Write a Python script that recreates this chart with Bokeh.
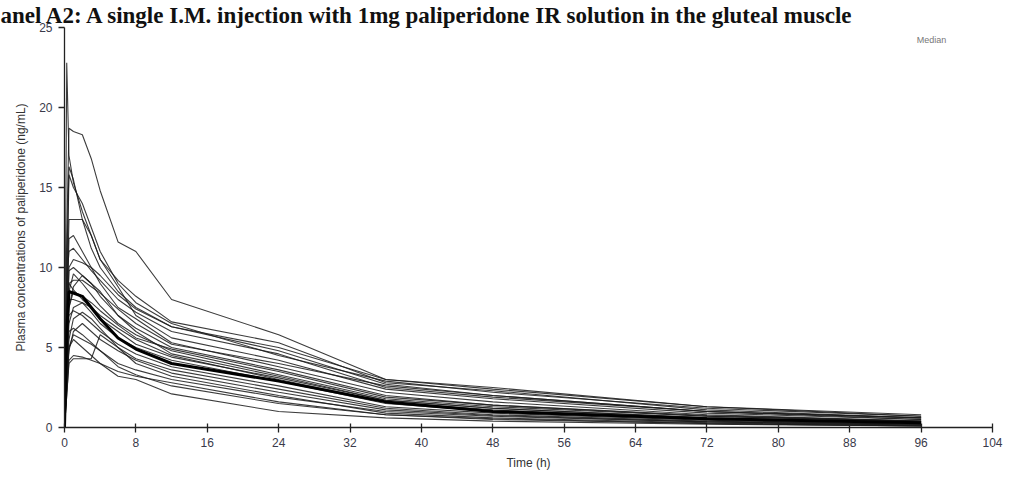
from bokeh.plotting import figure
from bokeh.models import FixedTicker, Label, Range1d
from bokeh.embed import file_html
from bokeh.resources import INLINE

# Sampling times (h)
times = [0, 0.25, 0.5, 1, 2, 3, 4, 6, 8, 12, 24, 36, 48, 72, 96]

# Individual subject concentration-time profiles (ng/mL)
s01 = [0, 12.0, 18.7, 18.5, 18.3, 16.8, 14.8, 11.6, 11.0, 8.0, 5.8, 3.0, 2.5, 1.3, 0.8]
s02 = [0, 22.8, 17.0, 15.3, 13.5, 12.0, 10.5, 9.2, 8.2, 6.6, 5.3, 2.8, 2.3, 1.1, 0.6]
s03 = [0, 10.0, 16.3, 15.5, 13.0, 11.2, 10.0, 8.5, 7.5, 6.3, 4.8, 2.7, 2.0, 1.0, 0.5]
s04 = [0, 8.0, 15.8, 15.0, 14.0, 12.5, 11.0, 9.0, 7.8, 6.5, 4.5, 2.9, 2.2, 1.2, 0.7]
s05 = [0, 7.0, 13.0, 13.0, 13.0, 12.0, 10.5, 8.8, 7.0, 5.6, 4.2, 2.4, 1.8, 0.9, 0.5]
s06 = [0, 6.5, 11.8, 12.0, 11.0, 10.0, 9.0, 7.5, 6.8, 5.3, 3.8, 2.2, 1.6, 0.8, 0.4]
s07 = [0, 9.0, 11.0, 11.2, 10.5, 9.8, 9.2, 8.0, 7.2, 6.0, 4.6, 2.5, 1.9, 1.0, 0.6]
s08 = [0, 5.0, 9.8, 10.0, 9.5, 9.0, 8.2, 7.0, 6.2, 5.0, 3.6, 2.0, 1.4, 0.7, 0.4]
s09 = [0, 6.0, 8.5, 9.6, 9.0, 8.3, 7.6, 6.5, 5.8, 4.8, 3.3, 1.8, 1.3, 0.7, 0.35]
s10 = [0, 4.5, 7.5, 8.8, 9.5, 9.0, 8.5, 7.0, 6.0, 4.6, 3.2, 1.7, 1.2, 0.6, 0.3]
s11 = [0, 5.5, 8.0, 8.0, 7.8, 7.5, 7.0, 6.2, 5.5, 4.5, 3.0, 1.6, 1.1, 0.55, 0.3]
s12 = [0, 3.5, 6.5, 7.5, 7.8, 7.2, 6.5, 5.6, 5.0, 4.2, 2.9, 1.5, 1.0, 0.5, 0.25]
s13 = [0, 4.0, 7.0, 7.3, 7.0, 6.5, 6.0, 5.2, 4.6, 3.8, 2.6, 1.3, 0.9, 0.45, 0.2]
s14 = [0, 3.0, 5.5, 6.8, 7.2, 6.8, 6.2, 5.0, 4.3, 3.6, 2.4, 1.2, 0.8, 0.4, 0.2]
s15 = [0, 2.5, 4.8, 6.0, 6.5, 6.0, 5.5, 4.8, 4.2, 3.4, 2.2, 1.1, 0.75, 0.35, 0.2]
s16 = [0, 3.0, 5.0, 5.8, 5.5, 5.2, 4.8, 4.0, 3.6, 3.0, 1.9, 1.0, 0.7, 0.35, 0.15]
s17 = [0, 2.0, 4.0, 4.3, 4.3, 4.3, 5.8, 5.0, 4.0, 3.2, 2.0, 0.9, 0.6, 0.3, 0.15]
s18 = [0, 2.5, 5.0, 5.5, 5.0, 4.5, 4.0, 3.2, 3.0, 2.1, 1.0, 0.6, 0.4, 0.2, 0.1]
s19 = [0, 3.0, 6.0, 6.2, 5.8, 5.3, 4.8, 3.8, 3.3, 2.6, 1.5, 0.8, 0.5, 0.25, 0.1]
s20 = [0, 6.0, 10.0, 10.5, 10.3, 10.0, 9.5, 8.3, 7.4, 6.3, 5.0, 3.0, 2.4, 1.3, 0.7]
s21 = [0, 7.5, 9.0, 9.2, 9.2, 8.8, 8.4, 7.4, 6.5, 5.2, 4.0, 2.6, 2.0, 1.0, 0.6]
s22 = [0, 4.0, 7.5, 8.5, 8.2, 7.8, 7.3, 6.4, 5.6, 4.9, 3.5, 1.9, 1.4, 0.75, 0.4]
s23 = [0, 5.0, 9.0, 8.6, 8.0, 7.5, 6.8, 6.0, 5.2, 4.4, 3.1, 1.7, 1.2, 0.6, 0.3]
s24 = [0, 2.0, 4.2, 4.5, 4.4, 4.2, 4.0, 3.5, 3.2, 2.8, 1.6, 0.8, 0.55, 0.25, 0.1]
subjects = [s01, s02, s03, s04, s05, s06, s07, s08, s09, s10, s11, s12,
            s13, s14, s15, s16, s17, s18, s19, s20, s21, s22, s23, s24]

# Median profile (ng/mL)
median = [0, 6.0, 8.5, 8.4, 8.2, 7.5, 6.8, 5.6, 4.9, 4.0, 2.9, 1.6, 1.0, 0.55, 0.3]

x_ticks = [0, 8, 16, 24, 32, 40, 48, 56, 64, 72, 80, 88, 96, 104]
y_ticks = [0, 5, 10, 15, 20, 25]

title_text = "anel A2: A single I.M. injection with 1mg paliperidone IR solution in the gluteal muscle"
legend_text = "Median"

W, H = 1009, 481
p = figure(width=W, height=H, output_backend="svg", toolbar_location=None,
           x_range=Range1d(0, 104), y_range=Range1d(0, 25),
           min_border_left=64, min_border_right=17, min_border_top=0,
           min_border_bottom=54)
p.outline_line_color = None
p.xgrid.visible = False
p.ygrid.visible = False
p.background_fill_color = "white"
p.border_fill_color = "white"

# Title above the frame, shifted to the image's left edge
p.title.text = title_text
p.title.align = "left"
p.title.offset = -64
p.title.standoff = 0
p.title.text_font = "Liberation Serif"
p.title.text_font_style = "bold"
p.title.text_font_size = "23px"
p.title.text_line_height = 0.85
p.title.text_color = "#111111"

for s in subjects:
    p.line(times, s, line_color="#1a1a1a", line_width=1.1, line_alpha=0.85)
p.line(times, median, line_color="black", line_width=3)

font = "Liberation Sans"
for ax in (p.xaxis[0], p.yaxis[0]):
    ax.axis_line_color = "#222222"
    ax.axis_line_width = 1.3
    ax.major_tick_line_color = "#222222"
    ax.major_tick_line_width = 1.3
    ax.minor_tick_line_color = None
    ax.major_label_text_font = font
    ax.major_label_text_font_size = "12px"
    ax.major_label_text_color = "#3a3a4a"
    ax.axis_label_text_font = font
    ax.axis_label_text_font_size = "12px"
    ax.axis_label_text_font_style = "normal"
    ax.axis_label_text_color = "#333333"

p.xaxis[0].ticker = FixedTicker(ticks=x_ticks)
p.xaxis[0].major_tick_in = 4
p.xaxis[0].major_tick_out = 5
p.xaxis[0].major_label_standoff = 5
p.xaxis[0].axis_label = "Time (h)"
p.xaxis[0].axis_label_standoff = 6

p.yaxis[0].ticker = FixedTicker(ticks=y_ticks)
p.yaxis[0].major_tick_in = 0
p.yaxis[0].major_tick_out = 6
p.yaxis[0].major_label_standoff = 6
p.yaxis[0].axis_label = "Plasma concentrations of paliperidone (ng/mL)"
p.yaxis[0].axis_label_standoff = 8

# Small legend caption at top right, inside the plot area
leg = Label(x=95.5, y=24.2, text=legend_text,
            text_font=font, text_font_size="9px", text_color="#777777",
            text_baseline="alphabetic", text_align="left")
p.add_layout(leg)

open("out.html", "w").write(file_html(p, INLINE))
